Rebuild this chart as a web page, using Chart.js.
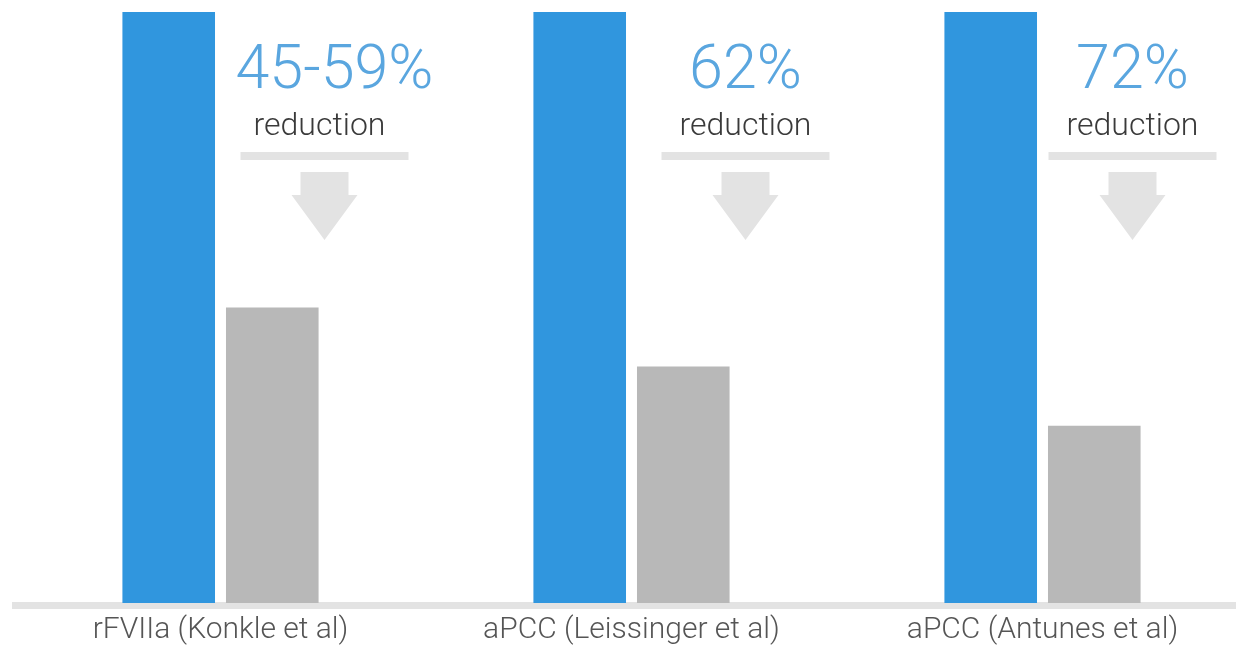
<!DOCTYPE html>
<html>
<head>
<meta charset="utf-8">
<script src="https://cdn.jsdelivr.net/npm/chart.js@4.4.1/dist/chart.umd.min.js"></script>
<style>
	html, body { margin: 0; padding: 0; background: #fff; overflow: hidden; }
	#wrap { width: 1236px; height: 664px; overflow: hidden; position: relative; }
	#chart-area { display: block; }
</style>
</head>
<body>
<div id="wrap"><canvas id="chart-area" width="1250" height="664"></canvas></div>
<script>
// Study labels along the bottom
var categories = ['rFVIIa (Konkle et al)', 'aPCC (Leissinger et al)', 'aPCC (Antunes et al)'];
// Bleed rate before prophylaxis (blue) and with it (gray), relative scale
var beforeValues = [100, 100, 100];
var afterValues = [50, 40, 30];
// Callout text above each pair
var reductionLabels = ['45-59%', '62%', '72%'];
var reductionWord = 'reduction';

var FONT = 'Roboto, "Helvetica Neue", Arial, sans-serif';

// baseline under the bars
var baselinePlugin = {
	id: 'baseline',
	beforeDatasetsDraw: function (chart) {
		var ctx = chart.ctx;
		var area = chart.chartArea;
		ctx.save();
		ctx.fillStyle = '#e3e3e3';
		ctx.fillRect(12, area.bottom - 1, chart.width - 12, 7);
		ctx.restore();
	}
};

// "xx% reduction" callouts with the down arrow
var calloutPlugin = {
	id: 'callouts',
	afterDatasetsDraw: function (chart, args, opts) {
		var ctx = chart.ctx;
		var xScale = chart.scales.x;
		ctx.save();
		reductionLabels.forEach(function (label, i) {
			var cx = xScale.getPixelForValue(i) + opts.offsets[i];

			ctx.textAlign = 'center';
			ctx.textBaseline = 'alphabetic';
			ctx.fillStyle = '#5aa6df';
			ctx.font = '300 61px ' + FONT;
			ctx.fillText(label, cx + opts.textShift[i], 88);

			ctx.fillStyle = '#3a3a3a';
			ctx.font = '300 32px ' + FONT;
			ctx.fillText(reductionWord, cx - opts.textShift[i] / 2, 135);

			ctx.fillStyle = '#e3e3e3';
			ctx.fillRect(cx - 84, 152, 168, 8);

			// arrow
			ctx.beginPath();
			ctx.moveTo(cx - 24, 172);
			ctx.lineTo(cx + 24, 172);
			ctx.lineTo(cx + 24, 195);
			ctx.lineTo(cx + 33, 195);
			ctx.lineTo(cx, 240);
			ctx.lineTo(cx - 33, 195);
			ctx.lineTo(cx - 24, 195);
			ctx.closePath();
			ctx.fill();
		});
		ctx.restore();
	}
};

var config = {
	type: 'bar',
	data: {
		labels: categories,
		datasets: [{
			label: 'Before',
			data: beforeValues,
			backgroundColor: '#3096de'
		}, {
			label: 'After',
			data: afterValues,
			backgroundColor: '#b8b8b8'
		}]
	},
	options: {
		responsive: false,
		animation: false,
		events: [],
		categoryPercentage: 0.504,
		barPercentage: 0.894,
		layout: {
			padding: { left: 15, right: 2, top: 12, bottom: 7 }
		},
		plugins: {
			legend: { display: false },
			tooltip: { enabled: false },
			callouts: { offsets: [104, 114, 90], textShift: [10, 0, 0] }
		},
		scales: {
			x: {
				grid: { display: false, drawTicks: false },
				border: { display: false },
				ticks: {
					padding: 9,
					color: '#555555',
					font: { family: FONT, size: 30, weight: 300 }
				}
			},
			y: {
				display: false,
				min: 0,
				max: 100
			}
		}
	},
	plugins: [baselinePlugin, calloutPlugin]
};

var ctx = document.getElementById('chart-area').getContext('2d');
var chart = new Chart(ctx, config);
</script>
</body>
</html>
